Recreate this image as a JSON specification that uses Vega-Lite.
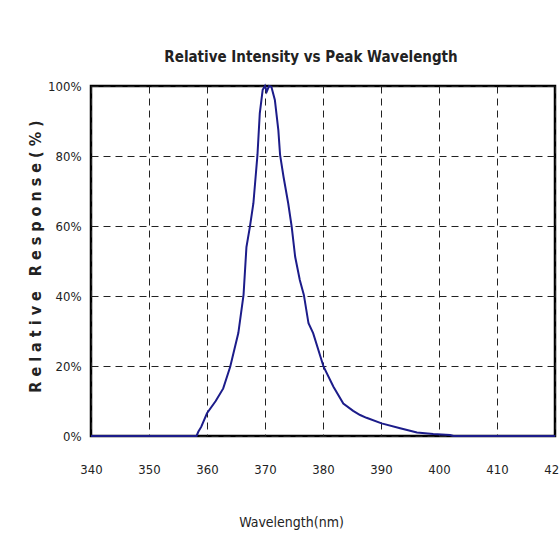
{
  "$schema": "https://vega.github.io/schema/vega-lite/v6.json",
  "autosize": "none",
  "width": 464,
  "height": 350,
  "padding": {"left": 91, "top": 86, "right": 4, "bottom": 115},
  "background": "white",
  "title": {
    "text": "Relative Intensity vs Peak Wavelength",
    "font": "DejaVu Sans Condensed",
    "fontSize": 15,
    "fontWeight": "bold",
    "color": "#222222",
    "anchor": "middle",
    "offset": 15,
    "dx": -12
  },
  "config": {
    "view": {"stroke": "black", "strokeWidth": 2.5},
    "axis": {
      "grid": true,
      "gridColor": "#222222",
      "gridDash": [7, 5],
      "gridWidth": 1,
      "gridOpacity": 1,
      "domain": false,
      "ticks": false,
      "labelFont": "DejaVu Sans Condensed",
      "labelFontSize": 13,
      "labelColor": "#222222",
      "titleFont": "DejaVu Sans Condensed",
      "titleColor": "#222222"
    }
  },
  "data": {
    "values": [
      {"wl": 340, "v": 0},
      {"wl": 350, "v": 0},
      {"wl": 358.2, "v": 0},
      {"wl": 358.5, "v": 1.2},
      {"wl": 359, "v": 2.6},
      {"wl": 360, "v": 6.5},
      {"wl": 361.5, "v": 10},
      {"wl": 362.8, "v": 13.6},
      {"wl": 364, "v": 19.8},
      {"wl": 365.4, "v": 29.4},
      {"wl": 366.3, "v": 40.3},
      {"wl": 366.8, "v": 54},
      {"wl": 367.4, "v": 59.8},
      {"wl": 368, "v": 66.5},
      {"wl": 368.7, "v": 80.3},
      {"wl": 369.1, "v": 92.2},
      {"wl": 369.6, "v": 98.9},
      {"wl": 370, "v": 100},
      {"wl": 370.3, "v": 98.4},
      {"wl": 370.7, "v": 100},
      {"wl": 371.1, "v": 99.8},
      {"wl": 371.7, "v": 96},
      {"wl": 372.3, "v": 87.4},
      {"wl": 372.6, "v": 80.3},
      {"wl": 373.2, "v": 74},
      {"wl": 374, "v": 66.5},
      {"wl": 374.6, "v": 59.8},
      {"wl": 375.2, "v": 51.2},
      {"wl": 376, "v": 44.6},
      {"wl": 376.7, "v": 40.3},
      {"wl": 377.5, "v": 32.2},
      {"wl": 378.3, "v": 29.4},
      {"wl": 380.1, "v": 19.8},
      {"wl": 381.8, "v": 14.1},
      {"wl": 383.5, "v": 9.3},
      {"wl": 385.2, "v": 7.2},
      {"wl": 386.4, "v": 6.0},
      {"wl": 387.5, "v": 5.2},
      {"wl": 390.1, "v": 3.6},
      {"wl": 393.3, "v": 2.2},
      {"wl": 396.2, "v": 1.0},
      {"wl": 399, "v": 0.6},
      {"wl": 401.9, "v": 0.3},
      {"wl": 402.5, "v": 0},
      {"wl": 420, "v": 0}
    ]
  },
  "mark": {"type": "line", "color": "#1c1c8a", "strokeWidth": 2, "clip": false},
  "encoding": {
    "x": {
      "field": "wl",
      "type": "quantitative",
      "scale": {"domain": [340, 420], "nice": false},
      "axis": {
        "values": [340, 350, 360, 370, 380, 390, 400, 410, 420],
        "title": "Wavelength(nm)",
        "titleFontSize": 14,
        "titleFontWeight": "normal",
        "titlePadding": 39,
        "titleX": 200,
        "labelPadding": 27,
        "labelFlush": false
      }
    },
    "y": {
      "field": "v",
      "type": "quantitative",
      "scale": {"domain": [0, 100], "nice": false},
      "axis": {
        "values": [0, 20, 40, 60, 80, 100],
        "labelExpr": "datum.value + '%'",
        "title": "R\u00a0e\u00a0l\u00a0a\u00a0t\u00a0i\u00a0v\u00a0e\u00a0\u00a0\u00a0R\u00a0e\u00a0s\u00a0p\u00a0o\u00a0n\u00a0s\u00a0e\u00a0(\u00a0%\u00a0)",
        "titleFontSize": 16,
        "titleFontWeight": "bold",
        "titlePadding": 4,
        "titleY": 170,
        "labelPadding": 10
      }
    }
  }
}
